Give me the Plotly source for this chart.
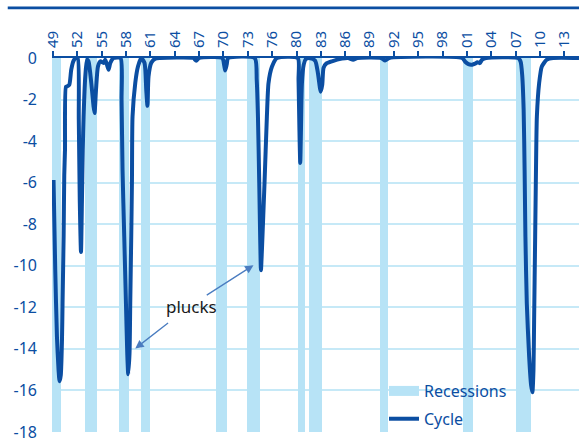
import plotly.graph_objects as go

# ---------------- data ----------------
cycle_x = [1949.07, 1949.28, 1949.49, 1949.69, 1949.81, 1949.96, 1950.11, 1950.18, 1950.31, 1950.39,
           1950.48, 1950.60, 1950.76, 1951.01, 1951.25, 1951.54, 1951.83, 1952.05, 1952.18, 1952.30,
           1952.45, 1952.57, 1952.67, 1952.77, 1952.98, 1953.19, 1953.38, 1953.72, 1954.00, 1954.12,
           1954.30, 1954.54, 1954.83, 1955.23, 1955.44, 1955.65, 1955.85, 1956.06, 1956.46, 1957.33,
           1957.45, 1957.57, 1957.78, 1957.99, 1958.15, 1958.27, 1958.43, 1958.52, 1958.64, 1958.73,
           1958.80, 1959.14, 1959.47, 1959.87, 1960.28, 1960.49, 1960.64, 1960.77, 1961.11, 1961.60,
           1962.20, 1966.28, 1966.65, 1967.02, 1969.85, 1970.10, 1970.22, 1970.40, 1970.59, 1973.85,
           1974.10, 1974.25, 1974.41, 1974.53, 1974.62, 1974.74, 1975.06, 1975.35, 1975.55, 1975.97,
           1976.59, 1979.15, 1979.25, 1979.36, 1979.46, 1979.55, 1979.67, 1979.89, 1980.16, 1980.69,
           1981.30, 1981.61, 1981.98, 1982.17, 1982.33, 1982.66, 1983.36, 1984.59, 1985.37, 1985.98,
           1986.48, 1989.43, 1989.92, 1990.42, 1999.41, 1999.78, 2000.18, 2000.64, 2001.00, 2001.29,
           2001.56, 2001.87, 2002.36, 2006.30, 2006.61, 2006.80, 2006.98, 2007.10, 2007.20, 2007.37,
           2007.66, 2007.90, 2008.06, 2008.19, 2008.27, 2008.40, 2008.50, 2008.61, 2008.89, 2009.22,
           2009.84, 2010.61, 2013.80]
cycle_y = [-5.87, -10.21, -13.42, -15.03, -15.56, -15.27, -13.58, -11.8, -8.6, -5.63,
           -4.42, -1.38, -1.36, -1.29, -0.56, -0.13, 0, 0, -2.97, -6.83,
           -9.34, -6.83, -4.42, -2.82, -0.89, -0.08, -0.16, -1.21, -2.33, -2.65,
           -1.53, -0.41, -0.16, -0.24, -0.08, -0.32, -0.56, -0.24, 0, 0,
           -2.01, -5.39, -8.6, -11.8, -14.21, -15.22, -14.21, -11.8, -8.6, -5.87,
           -2.82, -1.19, -0.41, 0, -0.24, -1.53, -2.3, -0.89, -0.23, -0.03,
           0, 0, -0.13, 0, 0, -0.37, -0.6, -0.32, 0, 0,
           -1.05, -2.82, -6.01, -8.76, -10.21, -9.24, -6.01, -2.83, -1.21, -0.42,
           0, 0, -1.05, -3.46, -5.05, -3.46, -1.21, -0.32, -0.05, -0.01,
           -0.13, -0.66, -1.62, -1.29, -0.47, -0.27, -0.16, -0.03, 0, -0.08,
           0, 0, -0.12, 0, 0, -0.18, -0.30, -0.32, -0.27, -0.20,
           -0.25, -0.08, 0, 0, -0.18, -0.81, -2.49, -5.39, -8.6, -11.8,
           -14.39, -15.75, -16.09, -15.03, -12.62, -8.6, -5.39, -2.82, -1.21, -0.41,
           -0.08, 0, 0]

rec_start = [1948.88, 1952.98, 1957.17, 1959.84, 1969.07, 1972.89, 1979.15, 1980.48, 1989.31, 1999.49, 2006.06]
rec_end   = [1950.02, 1954.42, 1958.31, 1960.98, 1970.43, 1974.53, 1980.01, 1982.13, 1990.21, 2000.68, 2007.87]
rec_depth = -18

tick_vals = [1949, 1952, 1955, 1958, 1961, 1964, 1967, 1970, 1973, 1976, 1979,
             1982, 1985, 1988, 1991, 1994, 1997, 2000, 2003, 2006, 2009, 2012]
tick_labels = ["49", "52", "55", "58", "61", "64", "67", "70", "73", "76", "80",
               "83", "86", "89", "92", "95", "98", "01", "04", "07", "10", "13"]
y_vals = [0, -2, -4, -6, -8, -10, -12, -14, -16, -18]
y_labels = ["0", "-2", "-4", "-6", "-8", "-10", "-12", "-14", "-16", "-18"]

note_text = "plucks"
note_pos = (1966.03, -11.94)
arrow_tips = [(1959.14, -13.98), (1973.70, -9.97)]
arrow_tails = [(1963.36, -12.70), (1967.76, -11.46)]

# ---------------- styles ----------------
DARK = "#0b4ea2"
LIGHT = "#b7e3f6"
GRID = "#c6e9f7"
FONT = "Noto Sans"

fig = go.Figure()

rec_centers = [(s + e) / 2 for s, e in zip(rec_start, rec_end)]
rec_widths = [e - s for s, e in zip(rec_start, rec_end)]
fig.add_trace(go.Bar(x=rec_centers, y=[rec_depth] * len(rec_start), width=rec_widths,
                     marker=dict(color=LIGHT, line=dict(width=0)),
                     showlegend=False, hoverinfo="skip", legendgroup="rec"))
fig.add_trace(go.Scatter(x=[None], y=[None], mode="lines", name="Recessions",
                         line=dict(color=LIGHT, width=10), legendgroup="rec"))
fig.add_trace(go.Scatter(x=cycle_x, y=cycle_y, mode="lines", name="Cycle",
                         line=dict(color=DARK, width=4, shape="spline", smoothing=0.6),
                         legendgroup="cyc"))

fig.add_annotation(x=note_pos[0], y=note_pos[1], text=note_text, showarrow=False,
                   font=dict(family=FONT, size=17, color="#1a1a1a"))
for (tx, ty), (sx, sy) in zip(arrow_tips, arrow_tails):
    fig.add_annotation(x=tx, y=ty, ax=sx, ay=sy, axref="x", ayref="y", text="",
                       showarrow=True, arrowhead=2, arrowsize=1.3, arrowwidth=1.3,
                       arrowcolor="#4a7cc0")

fig.add_shape(type="line", xref="paper", yref="paper", x0=-0.084, x1=1.0, y0=1.134, y1=1.134,
              line=dict(color=DARK, width=2.7))

fig.update_layout(
    width=579, height=447,
    margin=dict(l=52, r=0, t=58, b=15),
    paper_bgcolor="white", plot_bgcolor="white",
    font=dict(family=FONT, color=DARK),
    bargap=0,
    legend=dict(x=0.63, y=0.155, xanchor="left", yanchor="top",
                font=dict(family=FONT, size=16, color=DARK),
                bgcolor="rgba(0,0,0,0)", traceorder="grouped", tracegroupgap=4),
    xaxis=dict(range=[1948.88, 2013.8], side="top", tickvals=tick_vals, ticktext=tick_labels,
               tickangle=-90, ticks="outside", ticklen=5, tickwidth=1.5, tickcolor=DARK,
               showline=True, linecolor=DARK, linewidth=2, showgrid=False, zeroline=False,
               automargin=False, tickfont=dict(family=FONT, size=15, color=DARK)),
    yaxis=dict(range=[-18, 0], tickvals=y_vals, ticktext=y_labels, showgrid=True,
               gridcolor=GRID, gridwidth=1.5, zeroline=False, showline=False, automargin=False,
               ticklabelstandoff=14, tickfont=dict(family=FONT, size=16, color=DARK)),
)

fig.write_html("out.html", config={"displayModeBar": False},
               post_script="document.body.style.margin='0px';document.body.style.padding='0px';")
